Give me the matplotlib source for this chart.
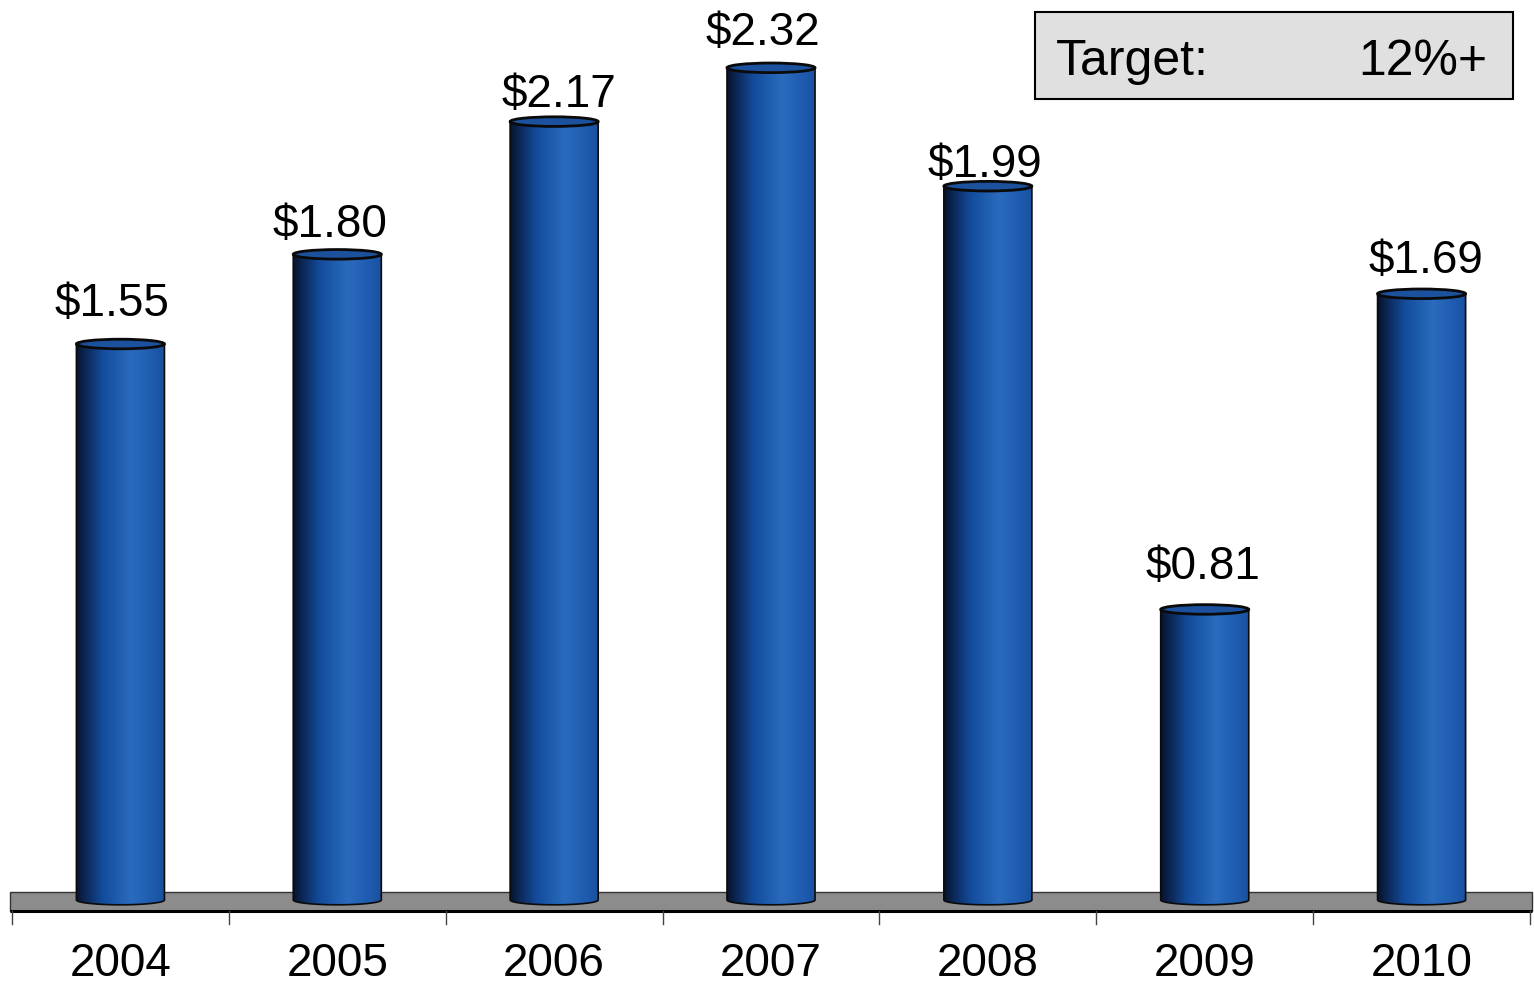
import numpy as np
import matplotlib
matplotlib.use("Agg")
import matplotlib.pyplot as plt
from matplotlib.colors import LinearSegmentedColormap
from matplotlib.patches import Ellipse, Rectangle, Polygon

plt.rcParams['font.family'] = ['Liberation Sans', 'DejaVu Sans']

years = ['2004', '2005', '2006', '2007', '2008', '2009', '2010']
eps = [1.55, 1.80, 2.17, 2.32, 1.99, 0.81, 1.69]
labels = ['$1.55', '$1.80', '$2.17', '$2.32', '$1.99', '$0.81', '$1.69']

# label nudges in pixels (the original placed them a bit unevenly)
lab_dx = [-8, -7, 5, -8, -3, -2, 4]
lab_dy = [28, 17, 15, 23, 9, 30, 21]

# pixel-ish scales: 216.86 px per category, 358.7 px per dollar
W, H = 1534, 986
xpx = 216.86
ypx = 358.7
x_left = -0.5 - 12 / xpx
y_top = 900 / ypx

fig = plt.figure(figsize=(W / 100, H / 100), dpi=100)
ax = fig.add_axes([0, 0, 1, 1])
ax.set_xlim(x_left, x_left + W / xpx)
ax.set_ylim(y_top - H / ypx, y_top)
ax.axis('off')

cyl = LinearSegmentedColormap.from_list('cyl', [
    (0.0, '#07132b'), (0.12, '#0d2a5c'), (0.3, '#134c9c'),
    (0.62, '#2a6bbd'), (0.85, '#1f5cb0'), (1.0, '#1a509e')])
grad = np.linspace(0, 1, 256).reshape(1, -1)

bw = 0.406
eh = 4.8 / ypx   # ellipse half height

# floor slab
floor_top = 8 / ypx
floor_bot = -11 / ypx
ax.add_patch(Rectangle((x_left + 10 / xpx, floor_bot), 1522 / xpx, floor_top - floor_bot,
                       facecolor='#8c8c8c', edgecolor='#333333', lw=1.0, zorder=1))
ax.plot([x_left + 10 / xpx, x_left + 1532 / xpx], [floor_bot, floor_bot],
        color='black', lw=2.2, zorder=2, solid_capstyle='butt')
for k in range(len(years) + 1):
    ax.plot([k - 0.5, k - 0.5], [floor_bot, floor_bot - 13 / ypx],
            color='#444444', lw=1.0, zorder=2)

for i, (v, lab, yr) in enumerate(zip(eps, labels, years)):
    x0, x1 = i - bw / 2, i + bw / 2
    t = np.linspace(np.pi, 2 * np.pi, 60)
    arc = np.column_stack([i + bw / 2 * np.cos(t), eh * np.sin(t)])
    verts = np.vstack([[x0, v], arc, [x1, v]])
    body = Polygon(verts, closed=True, facecolor='none', edgecolor='#0b0b0b',
                   lw=1.2, zorder=4)
    img = ax.imshow(grad, cmap=cyl, aspect='auto', extent=[x0, x1, -eh, v],
                    zorder=3, interpolation='bicubic')
    ax.add_patch(body)
    img.set_clip_path(body)
    ax.add_patch(Ellipse((i, v), bw, 2 * eh, facecolor='#1c519e',
                         edgecolor='#0a0a0a', lw=2.0, zorder=5))
    ax.annotate(lab, (i, v), xytext=(lab_dx[i] * 0.72, lab_dy[i] * 0.72),
                textcoords='offset points', ha='center', va='baseline',
                fontsize=33, color='black', zorder=6)
    ax.text(i, -76 / ypx, yr, ha='center', va='baseline', fontsize=33, color='black')

# target box
fig.patches.append(Rectangle((1035 / W, 1 - 99 / H), 478 / W, 87 / H,
                             transform=fig.transFigure, facecolor='#e0e0e0',
                             edgecolor='black', lw=1.5))
fig.text(1056 / W, 1 - 75 / H, 'Target:', ha='left', va='baseline', fontsize=36)
fig.text(1487 / W, 1 - 75 / H, '12%+', ha='right', va='baseline', fontsize=36)

fig.savefig('out.png', dpi=100, facecolor='white')
